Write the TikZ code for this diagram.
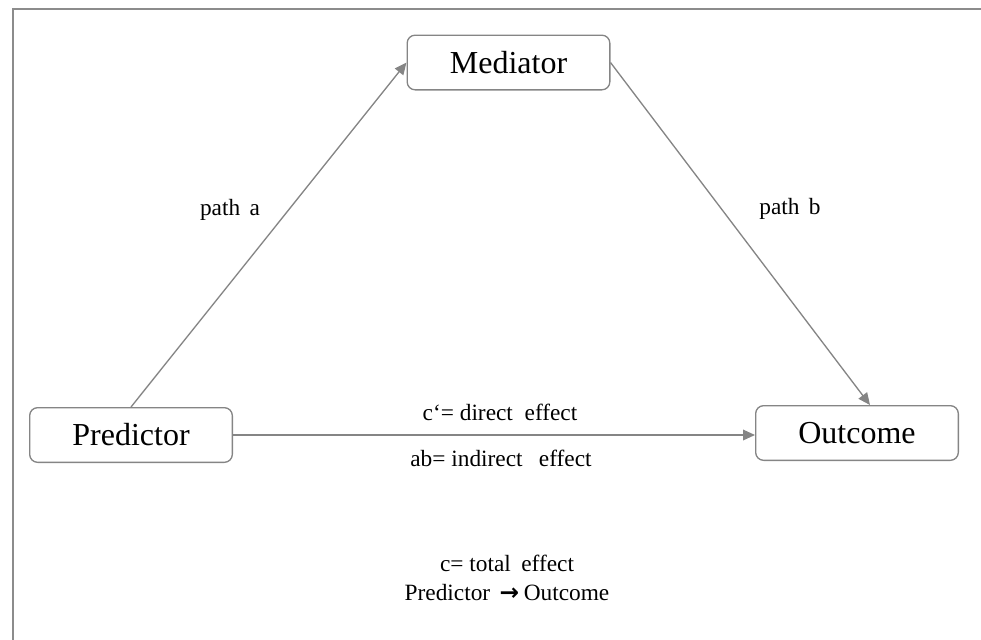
\documentclass[tikz,border=0pt]{standalone}
\usepackage{fontspec}
\setmainfont{Liberation Serif}
\newfontfamily\symfont{DejaVu Sans}
\usetikzlibrary{arrows.meta}
\definecolor{linegray}{HTML}{858585}
\definecolor{framegray}{HTML}{8C8C8C}
\tikzset{
  varbox/.style={draw=linegray, line width=1pt, rounded corners=6pt, fill=white,
    minimum width=152pt, minimum height=41pt, inner sep=0pt,
    font=\fontsize{24}{28}\selectfont},
  conn/.style={draw=linegray, line width=1pt, -{Triangle[length=9pt,width=8pt]}},
  lbl/.style={font=\fontsize{17.5}{21}\selectfont, inner sep=0pt, align=center}
}
\begin{document}
\begin{tikzpicture}[x=0.75pt,y=-0.75pt]
\useasboundingbox (0,0) rectangle (981,639);
\draw[framegray, line width=1.5pt] (12.5,645) -- (12.5,8.5) -- (990,8.5);
\node[varbox] (med) at (508.5,62.5) {Mediator};
\node[varbox] (pred) at (131,435) {Predictor};
\node[varbox] (out) at (857,433) {Outcome};
\draw[conn] (pred.north) -- (med.west);
\draw[conn] (med.east) -- ([xshift=9.75pt]out.north);
\draw[conn] (pred.east) -- (out.west |- pred.east);
\node[lbl] (pa) at (230,210) {path\hspace{0.4em}a};
\node[lbl] (pb) at (790,209) {path\hspace{0.4em}b};
\node[lbl] (cd) at (500,412) {c‘= direct\hspace{0.5em}effect};
\node[lbl] (ab) at (501,458) {ab= indirect\hspace{0.7em}effect};
\node[lbl] (ct) at (507,563) {c= total\hspace{0.45em}effect};
\node[lbl] (po) at (507,593) {Predictor\hspace{0.4em}{\symfont\bfseries →}\hspace{0.2em}Outcome};
\end{tikzpicture}
\end{document}
